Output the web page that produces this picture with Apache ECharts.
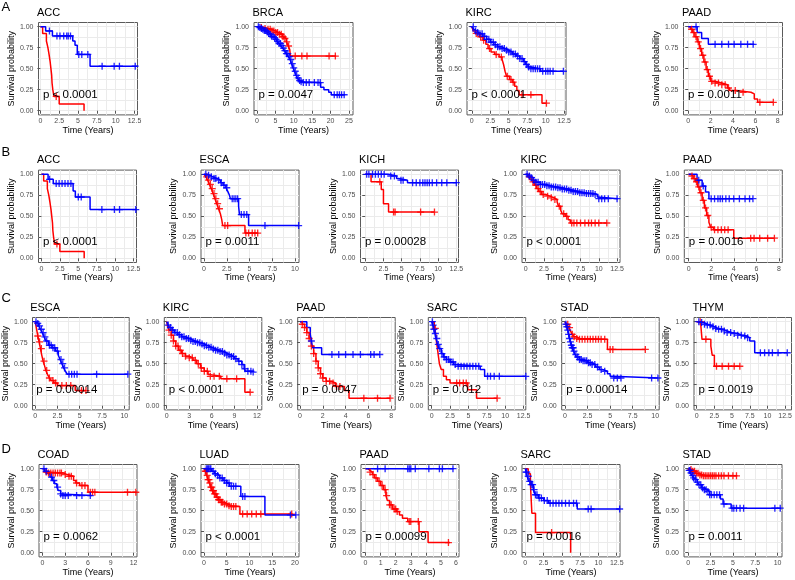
<!DOCTYPE html>
<html><head><meta charset="utf-8">
<script src="https://cdn.jsdelivr.net/npm/echarts@6/dist/echarts.min.js"></script>
<style>html,body{margin:0;padding:0;background:#fff}#c{width:795px;height:580px}</style>
</head><body><div id="c"></div><script>
// ---------- tick label arrays ----------
const ticks125 = [0, 2.5, 5, 7.5, 10, 12.5];
const ticks25 = [0, 5, 10, 15, 20, 25];
const ticks8 = [0, 2, 4, 6, 8];
const ticks10 = [0, 2.5, 5, 7.5, 10];
const ticks12 = [0, 3, 6, 9, 12];
const ticks20 = [0, 5, 10, 15, 20];
const ticks6 = [0, 1, 2, 3, 4, 5, 6];
const yTicks = [0, 0.25, 0.5, 0.75, 1];

// ---------- survival curves: [time, survival] ----------
// Row A
const accA_red = [[0,1],[0.3,0.92],[0.8,0.83],[1.0,0.75],[1.15,0.67],[1.3,0.58],[1.4,0.5],[1.5,0.42],[1.55,0.33],[1.65,0.25],[1.8,0.17],[2.5,0.08],[5.8,0]];
const accA_blue = [[0,1],[0.7,0.95],[1.6,0.89],[4.3,0.83],[4.6,0.78],[4.9,0.67],[6.6,0.53],[12.9,0.53]];
const accA_redC = [2.1];
const accA_blueC = [1.2,2.2,2.6,3.1,3.5,3.7,4.0,5.1,5.5,6.3,8.2,9.8,10.5,12.6];

const brcaA_red = [[0,1],[1,0.99],[2,0.98],[3,0.97],[4,0.95],[5,0.93],[6,0.91],[7,0.88],[7.5,0.86],[8,0.82],[8.5,0.77],[8.9,0.73],[9.1,0.65],[21.5,0.65]];
const brcaA_blue = [[0,1],[0.5,0.99],[1,0.98],[1.5,0.97],[2,0.955],[2.5,0.94],[3,0.92],[3.5,0.905],[4,0.885],[4.5,0.87],[5,0.85],[5.5,0.825],[6,0.8],[6.5,0.775],[7,0.745],[7.5,0.715],[8,0.68],[8.5,0.645],[9,0.61],[9.4,0.56],[9.8,0.51],[10.2,0.47],[10.6,0.42],[11,0.39],[11.5,0.36],[12,0.345],[12.5,0.335],[17.3,0.28],[18.2,0.25],[19.5,0.22],[20.2,0.19],[23.8,0.19]];
const brcaA_redC = [1.2,2.2,3.0,3.6,4.1,4.6,5.1,5.6,6.1,6.6,7.1,7.6,8.1,8.6,10.4,12.2,13.6,19.6,21.3];
const brcaA_blueC = [0.4,0.8,1.2,1.6,2.0,2.4,2.8,3.2,3.6,4.0,4.4,4.8,5.2,5.6,6.0,6.4,6.8,7.2,7.6,8.0,8.4,8.8,9.2,9.6,10.0,10.4,10.8,11.2,11.6,12.0,12.6,13.4,14.2,15.6,16.6,17.2,21.0,21.8,22.4,23.0,23.7];

const kircA_red = [[0,1],[0.2,0.95],[0.5,0.92],[1,0.88],[1.5,0.84],[1.9,0.79],[2.2,0.74],[2.6,0.7],[3.1,0.67],[3.7,0.64],[4.1,0.61],[4.3,0.55],[4.5,0.47],[4.7,0.41],[5.1,0.37],[5.5,0.34],[5.8,0.29],[6.1,0.24],[6.4,0.19],[9.5,0.09],[10.1,0.09]];
const kircA_blue = [[0,1],[0.25,0.97],[0.5,0.95],[0.75,0.93],[1,0.915],[1.5,0.885],[2,0.85],[2.5,0.815],[3,0.785],[3.5,0.76],[4,0.74],[4.5,0.72],[5,0.7],[5.5,0.675],[6,0.65],[6.5,0.62],[7,0.585],[7.3,0.55],[7.6,0.52],[7.9,0.5],[9.3,0.47],[12.4,0.47]];
const kircA_redC = [0.6,1.2,1.6,2.4,3.3,4.0,4.8,5.3,5.6,6.8,8.0,10.1];
const kircA_blueC = [0.2,0.5,0.8,1.1,1.4,1.7,2.0,2.3,2.6,2.9,3.2,3.5,3.8,4.1,4.4,4.7,5.0,5.3,5.6,5.9,6.2,6.5,6.8,7.1,7.4,7.7,8.0,8.3,8.6,8.9,9.2,9.6,10.0,10.3,10.6,11.0,12.4];

const paadA_red = [[0,1],[0.2,0.97],[0.4,0.93],[0.6,0.88],[0.8,0.82],[1.0,0.74],[1.2,0.66],[1.4,0.58],[1.6,0.49],[1.8,0.41],[2.0,0.35],[2.4,0.33],[3.0,0.31],[3.5,0.27],[3.7,0.24],[4.3,0.22],[5.6,0.2],[5.9,0.14],[6.2,0.1],[7.6,0.1]];
const paadA_blue = [[0,1],[0.8,0.93],[1.2,0.86],[1.8,0.79],[5.9,0.79]];
const paadA_redC = [0.3,0.5,0.7,0.9,1.1,1.3,1.5,1.7,1.9,2.1,2.4,2.7,3.0,3.3,3.6,4.2,4.9,6.4,7.6];
const paadA_blueC = [0.7,2.4,3.0,3.6,4.1,4.7,5.3,5.8];

// Row B
const accB_red = [[0,1],[0.3,0.92],[0.8,0.83],[1.0,0.75],[1.15,0.67],[1.3,0.58],[1.4,0.5],[1.5,0.42],[1.55,0.33],[1.65,0.25],[1.8,0.17],[2.5,0.08],[5.8,0]];
const accB_blue = [[0,1],[0.9,0.94],[1.6,0.89],[4.3,0.8],[4.6,0.73],[6.6,0.58],[12.9,0.58]];
const accB_redC = [2.1];
const accB_blueC = [1.1,2.0,2.4,2.8,3.2,3.6,4.0,5.0,5.4,8.2,9.9,10.6,12.8];

const escaB_red = [[0,1],[0.2,0.97],[0.4,0.93],[0.6,0.88],[0.8,0.83],[1.0,0.77],[1.2,0.71],[1.4,0.65],[1.6,0.59],[1.8,0.53],[1.95,0.46],[2.05,0.39],[4.5,0.3],[5.9,0.3]];
const escaB_blue = [[0,1],[0.3,0.99],[0.6,0.97],[1.0,0.95],[1.4,0.93],[1.8,0.9],[2.1,0.87],[2.4,0.84],[2.6,0.8],[2.8,0.75],[2.9,0.71],[3.8,0.62],[3.9,0.52],[4.9,0.39],[10.4,0.39]];
const escaB_redC = [0.3,0.5,0.7,0.9,1.1,1.3,1.5,1.7,2.3,2.6,4.6,4.9,5.3,5.6,5.9];
const escaB_blueC = [0.2,0.5,0.8,1.1,1.3,1.6,1.9,2.2,2.5,3.1,3.3,3.5,3.7,4.1,4.4,4.7,6.7,10.4];

const kichB_red = [[0,1],[0.8,0.91],[2.2,0.82],[2.5,0.65],[3.2,0.55],[9.5,0.55]];
const kichB_blue = [[0,1],[3.2,0.98],[4.3,0.95],[4.6,0.93],[5.8,0.9],[12.6,0.9]];
const kichB_redC = [2.0,3.9,4.1,7.6,9.5];
const kichB_blueC = [0.2,0.5,1.0,1.4,1.8,2.2,2.6,3.5,4.0,4.9,5.2,6.5,7.0,7.5,7.9,8.2,8.5,8.8,9.2,9.8,10.5,11.2,12.5];

const kircB_red = [[0,1],[0.3,0.97],[0.6,0.94],[0.9,0.91],[1.2,0.87],[1.5,0.83],[1.8,0.795],[2.2,0.76],[2.7,0.74],[3.3,0.72],[3.9,0.7],[4.3,0.67],[4.5,0.62],[4.8,0.57],[5.0,0.53],[5.4,0.5],[5.8,0.46],[6.1,0.42],[11.1,0.42]];
const kircB_blue = [[0,1],[0.3,0.98],[0.6,0.96],[1.0,0.93],[1.4,0.905],[2.0,0.88],[2.7,0.865],[3.5,0.85],[4.2,0.84],[5.0,0.825],[5.8,0.81],[6.5,0.795],[7.3,0.78],[8.2,0.77],[9.4,0.76],[9.8,0.73],[10.0,0.71],[12.6,0.71]];
const kircB_redC = [0.5,1.0,1.4,1.7,2.0,2.4,3.0,3.5,4.0,4.6,5.2,5.6,6.3,6.6,7.0,7.5,8.1,8.6,9.0,9.5,10.0,11.1];
const kircB_blueC = [0.2,0.5,0.8,1.1,1.4,1.7,2.0,2.3,2.6,2.9,3.2,3.5,3.8,4.1,4.4,4.7,5.0,5.3,5.6,5.9,6.2,6.5,6.8,7.1,7.4,7.7,8.0,8.3,8.6,8.9,9.2,9.5,10.0,10.4,10.8,11.3,12.5];

const paadB_red = [[0,1],[0.2,0.98],[0.4,0.95],[0.6,0.91],[0.8,0.85],[1.0,0.78],[1.2,0.69],[1.4,0.6],[1.6,0.51],[1.8,0.43],[1.95,0.37],[2.2,0.34],[4.0,0.24],[7.6,0.24]];
const paadB_blue = [[0,1],[0.75,0.93],[1.2,0.86],[1.5,0.79],[1.8,0.71],[5.7,0.71]];
const paadB_redC = [0.3,0.5,0.7,0.9,1.1,1.3,1.5,1.7,2.0,2.3,2.6,2.9,3.2,3.5,5.5,5.8,6.3,7.0,7.6];
const paadB_blueC = [0.9,1.3,2.0,2.3,2.6,2.8,3.0,3.3,3.6,4.0,4.5,5.0,5.4,5.7];

// Row C
const escaC_red = [[0,1],[0.1,0.95],[0.2,0.89],[0.3,0.83],[0.45,0.76],[0.6,0.68],[0.75,0.6],[0.9,0.53],[1.05,0.48],[1.2,0.42],[1.4,0.37],[1.6,0.33],[1.8,0.3],[2.1,0.27],[2.5,0.24],[4.5,0.18],[5.7,0.18]];
const escaC_blue = [[0,1],[0.2,0.98],[0.4,0.95],[0.6,0.91],[0.8,0.87],[1.0,0.82],[1.2,0.77],[1.5,0.72],[1.9,0.69],[2.3,0.65],[2.6,0.6],[2.8,0.55],[3.0,0.5],[3.2,0.45],[3.4,0.41],[3.6,0.375],[10.4,0.375]];
const escaC_redC = [0.3,0.5,0.7,1.0,1.3,1.6,2.0,2.3,3.0,3.5,4.0,5.2,5.7];
const escaC_blueC = [0.1,0.3,0.5,0.7,0.9,1.1,1.3,1.6,1.8,2.0,2.2,2.5,2.9,3.1,3.3,3.8,4.1,4.4,4.7,6.9,10.4];

const kircC_red = [[0,1],[0.1,0.95],[0.3,0.9],[0.6,0.84],[0.9,0.77],[1.2,0.71],[1.6,0.66],[2.0,0.62],[2.5,0.59],[3.0,0.57],[3.5,0.54],[4.0,0.5],[4.5,0.45],[5.0,0.41],[5.5,0.37],[5.8,0.35],[7.2,0.32],[10.4,0.16],[11.1,0.16]];
const kircC_blue = [[0,1],[0.2,0.96],[0.4,0.93],[0.7,0.9],[1.0,0.87],[1.5,0.845],[2.0,0.82],[2.5,0.8],[3.0,0.78],[3.5,0.765],[4.0,0.75],[4.5,0.735],[5.0,0.715],[5.5,0.695],[6.0,0.675],[6.5,0.66],[7.0,0.645],[7.5,0.625],[8.0,0.605],[8.5,0.585],[9.0,0.56],[9.5,0.53],[10.0,0.49],[10.3,0.44],[10.5,0.41],[11.5,0.4]];
const kircC_redC = [0.3,0.6,0.9,1.2,1.5,1.8,2.1,2.5,3.0,3.4,3.8,4.2,4.6,5.0,5.4,5.8,6.3,7.0,8.0,9.3,11.1];
const kircC_blueC = [0.2,0.5,0.8,1.1,1.4,1.7,2.0,2.3,2.6,2.9,3.2,3.5,3.8,4.1,4.4,4.7,5.0,5.3,5.6,5.9,6.2,6.5,6.8,7.1,7.4,7.7,8.0,8.3,8.6,8.9,9.2,9.6,10.0,10.4,10.8,11.2,11.5];

const paadC_red = [[0,1],[0.2,0.97],[0.4,0.93],[0.6,0.87],[0.8,0.8],[1.0,0.71],[1.2,0.62],[1.4,0.53],[1.6,0.45],[1.8,0.38],[2.0,0.33],[2.3,0.29],[2.8,0.27],[3.1,0.23],[3.9,0.18],[4.3,0.09],[7.9,0.09]];
const paadC_blue = [[0,1],[0.6,0.93],[0.9,0.85],[1.0,0.77],[1.1,0.69],[1.9,0.61],[7.0,0.61]];
const paadC_redC = [0.2,0.4,0.6,0.8,1.0,1.2,1.4,1.6,1.8,2.0,2.3,2.6,2.9,3.2,3.5,5.6,6.8,7.9];
const paadC_blueC = [1.0,2.8,3.4,4.0,4.65,5.3,6.2,6.5,7.0];

const sarcC_red = [[0,1],[0.35,0.92],[0.55,0.86],[0.65,0.76],[0.75,0.7],[0.9,0.6],[1.05,0.5],[1.3,0.43],[1.6,0.35],[2.0,0.31],[2.5,0.27],[4.9,0.19],[6.1,0.09],[8.9,0.09]];
const sarcC_blue = [[0,1],[0.15,0.96],[0.3,0.91],[0.45,0.86],[0.6,0.8],[0.8,0.73],[1.0,0.68],[1.3,0.62],[1.6,0.58],[2.0,0.55],[2.5,0.52],[3.0,0.49],[3.4,0.47],[6.6,0.43],[7.2,0.35],[12.8,0.35]];
const sarcC_redC = [0.5,3.4,3.8,4.3,4.7,8.9];
const sarcC_blueC = [0.1,0.2,0.3,0.5,0.7,0.9,1.1,1.4,1.7,2.0,2.3,2.6,2.9,3.2,3.6,4.0,4.4,4.8,5.2,5.6,6.0,6.4,7.6,8.0,8.5,9.2,12.8];

const stadC_red = [[0,1],[0.2,0.97],[0.4,0.93],[0.6,0.89],[0.8,0.85],[1.0,0.82],[1.3,0.8],[1.6,0.79],[4.7,0.67],[8.9,0.67]];
const stadC_blue = [[0,1],[0.1,0.97],[0.2,0.94],[0.3,0.9],[0.4,0.85],[0.5,0.8],[0.6,0.76],[0.7,0.72],[0.8,0.69],[0.95,0.65],[1.1,0.61],[1.3,0.58],[1.6,0.55],[2.0,0.535],[2.5,0.51],[3.0,0.49],[3.4,0.46],[3.8,0.43],[4.2,0.41],[4.7,0.38],[5.0,0.35],[5.3,0.33],[10.3,0.33]];
const stadC_redC = [0.3,0.5,0.8,1.0,1.3,1.6,1.9,2.2,2.5,2.8,3.1,3.4,3.7,4.0,4.4,5.0,5.3,8.9];
const stadC_blueC = [0.1,0.2,0.3,0.4,0.5,0.6,0.7,0.8,0.9,1.0,1.2,1.4,1.6,1.8,2.0,2.2,2.4,2.6,2.8,3.0,3.3,3.6,4.0,4.4,5.4,5.8,6.2,9.6,10.3];

const thymC_red = [[0,1],[0.6,0.94],[0.75,0.79],[2.0,0.71],[2.2,0.6],[2.5,0.47],[6.1,0.47]];
const thymC_blue = [[0,1],[0.5,0.99],[1.0,0.97],[1.5,0.96],[2.0,0.94],[2.5,0.92],[3.0,0.91],[3.7,0.89],[4.3,0.87],[5.0,0.86],[5.8,0.84],[6.4,0.83],[7.0,0.81],[7.5,0.77],[8.2,0.63],[12.8,0.63]];
const thymC_redC = [0.5,1.3,2.8,3.6,4.5,5.3,6.1];
const thymC_blueC = [0.3,0.7,1.1,1.5,1.9,2.3,2.7,3.1,3.5,3.9,4.3,4.8,5.3,5.8,6.3,6.8,7.2,9.0,9.6,10.2,10.7,11.5,12.8];

// Row D
const coadD_red = [[0,1],[0.3,0.96],[0.6,0.95],[2.7,0.93],[3.3,0.91],[4.1,0.86],[4.4,0.83],[4.9,0.8],[6.0,0.72],[12.4,0.72]];
const coadD_blue = [[0,1],[0.3,0.97],[0.7,0.94],[1.0,0.9],[1.3,0.86],[1.6,0.82],[1.9,0.78],[2.1,0.74],[2.4,0.7],[2.6,0.68],[6.5,0.68]];
const coadD_redC = [0.5,0.8,1.1,1.4,1.7,2.0,2.3,2.5,3.0,3.5,3.8,4.5,5.2,5.6,6.3,6.6,6.9,11.2,12.3];
const coadD_blueC = [0.2,0.5,1.2,1.5,2.0,2.4,2.7,3.0,3.4,4.5,5.2,6.3];

const luadD_red = [[0,1],[0.3,0.97],[0.6,0.92],[0.9,0.87],[1.2,0.83],[1.5,0.78],[1.8,0.74],[2.2,0.7],[2.7,0.66],[3.2,0.63],[3.8,0.6],[4.5,0.58],[5.2,0.56],[6.0,0.55],[7.9,0.46],[19.5,0.46]];
const luadD_blue = [[0,1],[1.7,0.97],[2.3,0.94],[2.8,0.92],[3.4,0.89],[4.2,0.86],[5.0,0.83],[5.6,0.79],[8.1,0.67],[13.4,0.45],[20.2,0.45]];
const luadD_redC = [0.3,0.5,0.7,0.9,1.1,1.3,1.5,1.7,1.9,2.1,2.3,2.6,2.9,3.2,3.5,3.8,4.1,4.5,5.0,5.5,6.0,6.5,7.0,8.5,9.5,10.5,11.5,12.5,19.3];
const luadD_blueC = [0.5,0.8,1.0,1.3,1.5,2.0,2.5,3.0,3.5,4.0,4.5,5.0,5.5,6.0,6.5,7.0,8.5,9.0,19.0,20.2];

const paadD_red = [[0,1],[0.15,0.98],[0.3,0.96],[0.45,0.93],[0.6,0.89],[0.8,0.85],[1.0,0.8],[1.2,0.75],[1.35,0.68],[1.45,0.62],[1.6,0.57],[1.8,0.52],[2.05,0.49],[2.25,0.45],[2.45,0.41],[2.8,0.37],[3.55,0.25],[4.15,0.12],[5.6,0.12]];
const paadD_blue = [[0,1],[5.85,1]];
const paadD_redC = [0.3,0.5,0.7,0.9,1.1,1.3,1.4,1.6,1.7,1.9,2.0,2.1,2.9,3.0,3.5,5.5];
const paadD_blueC = [0.8,1.3,2.8,2.9,3.0,3.3,4.2,4.9,5.1,5.8];

const sarcD_red = [[0,1],[0.4,0.94],[0.7,0.82],[0.9,0.47],[1.4,0.24],[6.2,0]];
const sarcD_blue = [[0,1],[0.1,0.96],[0.25,0.91],[0.45,0.85],[0.8,0.81],[1.1,0.75],[1.35,0.69],[1.8,0.65],[2.5,0.62],[3.2,0.59],[7.1,0.52],[12.9,0.52]];
const sarcD_redC = [3.6];
const sarcD_blueC = [0.1,0.2,0.4,0.6,0.8,1.0,1.2,1.4,1.6,1.9,2.2,2.6,3.0,3.4,3.8,4.2,4.6,5.0,5.5,6.0,6.6,7.0,8.6,9.0,12.9];

const stadD_red = [[0,1],[0.2,0.99],[0.5,0.97],[0.8,0.945],[1.2,0.925],[1.6,0.915],[5.5,0.915]];
const stadD_blue = [[0,1],[0.1,0.98],[0.25,0.95],[0.4,0.92],[0.6,0.89],[0.8,0.87],[1.0,0.84],[1.2,0.81],[1.5,0.77],[1.8,0.75],[2.1,0.73],[2.4,0.69],[3.6,0.64],[3.9,0.58],[4.8,0.53],[10.4,0.53]];
const stadD_redC = [0.3,0.5,0.7,0.9,1.1,1.3,1.5,1.7,1.9,2.1,2.3,2.5,2.7,2.9,3.1,3.4,3.7,4.0,4.5,5.0,5.4];
const stadD_blueC = [0.1,0.2,0.3,0.5,0.6,0.8,1.0,1.2,1.4,1.6,1.8,2.0,2.2,2.4,2.6,2.9,3.2,3.5,4.0,4.9,5.1,5.4,5.8,6.2,9.7,10.3];

// ---------- panel content ----------
const panels = [
  {title:'ACC',  p:'p < 0.0001', red:accA_red,  blue:accA_blue,  redC:accA_redC,  blueC:accA_blueC,  xt:ticks125},
  {title:'BRCA', p:'p = 0.0047', red:brcaA_red, blue:brcaA_blue, redC:brcaA_redC, blueC:brcaA_blueC, xt:ticks25},
  {title:'KIRC', p:'p < 0.0001', red:kircA_red, blue:kircA_blue, redC:kircA_redC, blueC:kircA_blueC, xt:ticks125},
  {title:'PAAD', p:'p = 0.0011', red:paadA_red, blue:paadA_blue, redC:paadA_redC, blueC:paadA_blueC, xt:ticks8},
  {title:'ACC',  p:'p < 0.0001', red:accB_red,  blue:accB_blue,  redC:accB_redC,  blueC:accB_blueC,  xt:ticks125},
  {title:'ESCA', p:'p = 0.0011', red:escaB_red, blue:escaB_blue, redC:escaB_redC, blueC:escaB_blueC, xt:ticks10},
  {title:'KICH', p:'p = 0.00028', red:kichB_red, blue:kichB_blue, redC:kichB_redC, blueC:kichB_blueC, xt:ticks125},
  {title:'KIRC', p:'p < 0.0001', red:kircB_red, blue:kircB_blue, redC:kircB_redC, blueC:kircB_blueC, xt:ticks125},
  {title:'PAAD', p:'p = 0.0016', red:paadB_red, blue:paadB_blue, redC:paadB_redC, blueC:paadB_blueC, xt:ticks8},
  {title:'ESCA', p:'p = 0.00014', red:escaC_red, blue:escaC_blue, redC:escaC_redC, blueC:escaC_blueC, xt:ticks10},
  {title:'KIRC', p:'p < 0.0001', red:kircC_red, blue:kircC_blue, redC:kircC_redC, blueC:kircC_blueC, xt:ticks12},
  {title:'PAAD', p:'p = 0.0047', red:paadC_red, blue:paadC_blue, redC:paadC_redC, blueC:paadC_blueC, xt:ticks8},
  {title:'SARC', p:'p = 0.012', red:sarcC_red, blue:sarcC_blue, redC:sarcC_redC, blueC:sarcC_blueC, xt:ticks125},
  {title:'STAD', p:'p = 0.00014', red:stadC_red, blue:stadC_blue, redC:stadC_redC, blueC:stadC_blueC, xt:ticks10},
  {title:'THYM', p:'p = 0.0019', red:thymC_red, blue:thymC_blue, redC:thymC_redC, blueC:thymC_blueC, xt:ticks125},
  {title:'COAD', p:'p = 0.0062', red:coadD_red, blue:coadD_blue, redC:coadD_redC, blueC:coadD_blueC, xt:ticks12},
  {title:'LUAD', p:'p < 0.0001', red:luadD_red, blue:luadD_blue, redC:luadD_redC, blueC:luadD_blueC, xt:ticks20},
  {title:'PAAD', p:'p = 0.00099', red:paadD_red, blue:paadD_blue, redC:paadD_redC, blueC:paadD_blueC, xt:ticks6},
  {title:'SARC', p:'p = 0.0016', red:sarcD_red, blue:sarcD_blue, redC:sarcD_redC, blueC:sarcD_blueC, xt:ticks125},
  {title:'STAD', p:'p = 0.0011', red:stadD_red, blue:stadD_blue, redC:stadD_redC, blueC:stadD_blueC, xt:ticks10}
];

// ---------- layout (pixels / axis ranges) ----------
const rowTops = [22.5, 170.1, 317.5, 464.5];
const BOX_H = 92.4;
const layout = [
  {row:0, left:38.5, width:99, xmin:-0.25, xmax:12.9},
  {row:0, left:254,  width:99, xmin:-0.8,  xmax:26.1},
  {row:0, left:467,  width:99, xmin:-0.65, xmax:12.75},
  {row:0, left:683.5,width:99, xmin:-0.42, xmax:8.42},
  {row:1, left:38.5, width:98, xmin:-0.4,  xmax:12.9},
  {row:1, left:201,  width:98, xmin:-0.33, xmax:10.44},
  {row:1, left:360.5,width:98, xmin:-0.65, xmax:12.8},
  {row:1, left:522,  width:98, xmin:-0.5,  xmax:12.9},
  {row:1, left:684.3,width:98, xmin:-0.38, xmax:8.3},
  {row:2, left:31.7, width:97.5, xmin:-0.29, xmax:10.55},
  {row:2, left:164.3,width:97.5, xmin:-0.32, xmax:12.65},
  {row:2, left:297.7,width:97.5, xmin:-0.2,  xmax:8.35},
  {row:2, left:428.3,width:97.5, xmin:-0.46, xmax:12.8},
  {row:2, left:561.7,width:97.5, xmin:-0.37, xmax:10.44},
  {row:2, left:694,  width:97.5, xmin:-0.38, xmax:13.4},
  {row:3, left:39,   width:98, xmin:-0.45, xmax:12.45},
  {row:3, left:201,  width:98, xmin:-0.66, xmax:20.9},
  {row:3, left:361,  width:98, xmin:-0.3,  xmax:6.2},
  {row:3, left:522,  width:98, xmin:-0.45, xmax:12.95},
  {row:3, left:684,  width:98, xmin:-0.48, xmax:10.5}
];
const rowLetters = ['A','B','C','D'];
const letterY = [7, 152, 298, 449];

const FONT = '"Liberation Sans", Arial, Helvetica, sans-serif';
const RED = '#ff0000', BLUE = '#0000ff';
const PLUS = 'path://M-1,-0.19H-0.19V-1H0.19V-0.19H1V0.19H0.19V1H-0.19V0.19H-1Z';

function survAt(curve, t) {
  let s = curve[0][1];
  for (const pt of curve) { if (pt[0] <= t + 1e-9) s = pt[1]; else break; }
  return s;
}
function gridValues(ticks, min, max) {
  const step = ticks[1] - ticks[0];
  const out = ticks.slice();
  for (let v = ticks[0] - step / 2; v <= max + 1e-9; v += step) if (v >= min) out.push(v);
  return out.filter(v => v >= min && v <= max);
}

const grids = [], xAxes = [], yAxes = [], series = [], graphics = [];
const yGrid = gridValues(yTicks, -0.05, 1.05);

panels.forEach((pn, i) => {
  const L = layout[i];
  const top = rowTops[L.row];
  grids.push({left: L.left, top: top, width: L.width, height: BOX_H, show: true,
    borderColor: '#5a5a5a', borderWidth: 1, backgroundColor: '#fff', containLabel: false});
  xAxes.push({gridIndex: i, type: 'value', min: L.xmin, max: L.xmax, position: 'bottom',
    axisLine: {show: false},
    axisTick: {show: true, length: 3, lineStyle: {color: '#555', width: 1}, customValues: pn.xt},
    axisLabel: {show: true, customValues: pn.xt, fontSize: 7, color: '#4d4d4d', margin: 3, fontFamily: FONT},
    splitLine: {show: false},
    name: 'Time (Years)', nameLocation: 'middle', nameGap: 9,
    nameTextStyle: {fontSize: 9, color: '#000', fontFamily: FONT}});
  const xg = gridValues(pn.xt, L.xmin, L.xmax);
  xAxes.push({gridIndex: i, type: 'value', min: L.xmin, max: L.xmax, position: 'top',
    axisLine: {show: false}, axisTick: {show: false, customValues: xg},
    axisLabel: {show: false}, splitLine: {show: true, customValues: xg, lineStyle: {color: '#ebebeb', width: 1}}});
  yAxes.push({gridIndex: i, type: 'value', min: -0.05, max: 1.05, position: 'left',
    axisLine: {show: false},
    axisTick: {show: true, length: 3, lineStyle: {color: '#555', width: 1}, customValues: yTicks},
    axisLabel: {show: true, customValues: yTicks, fontSize: 7, color: '#4d4d4d', margin: 5, fontFamily: FONT,
      formatter: v => Number(v).toFixed(2)},
    splitLine: {show: false},
    name: 'Survival probability', nameLocation: 'middle', nameGap: 22.5,
    nameTextStyle: {fontSize: 9, color: '#000', fontFamily: FONT}});
  yAxes.push({gridIndex: i, type: 'value', min: -0.05, max: 1.05, position: 'right',
    axisLine: {show: false}, axisTick: {show: false, customValues: yGrid},
    axisLabel: {show: false}, splitLine: {show: true, customValues: yGrid, lineStyle: {color: '#ebebeb', width: 1}}});

  const xi = 2 * i, yi = 2 * i;
  [[pn.red, RED], [pn.blue, BLUE]].forEach(([curve, col]) => {
    series.push({type: 'line', xAxisIndex: xi, yAxisIndex: yi, data: curve, step: 'end',
      symbol: 'none', showSymbol: false, silent: true, clip: true, z: 3,
      lineStyle: {color: col, width: 1.5}, itemStyle: {color: col}});
  });
  [[pn.redC, pn.red, RED], [pn.blueC, pn.blue, BLUE]].forEach(([cens, curve, col]) => {
    series.push({type: 'scatter', xAxisIndex: xi, yAxisIndex: yi, silent: true, z: 4,
      data: cens.map(t => [t, survAt(curve, t)]),
      symbol: PLUS, symbolSize: 7, itemStyle: {color: col, opacity: 0.85}});
  });

  graphics.push({type: 'text', z: 100, style: {text: pn.title, x: L.left - 1.5, y: top - 10,
    font: '11px ' + FONT, fill: '#000', align: 'left', verticalAlign: 'middle'}});
  const zeroY = top + BOX_H * (1.05 / 1.1);
  graphics.push({type: 'text', z: 100, style: {text: pn.p, x: L.left + 4.5, y: zeroY - 16,
    font: '11.5px ' + FONT, fill: '#000', align: 'left', verticalAlign: 'middle'}});
});
rowLetters.forEach((t, r) => {
  graphics.push({type: 'text', z: 100, style: {text: t, x: 1.5, y: letterY[r],
    font: '13px ' + FONT, fill: '#000', align: 'left', verticalAlign: 'middle'}});
});

const chart = echarts.init(document.getElementById('c'), null, {renderer: 'canvas'});
chart.setOption({
  animation: false,
  backgroundColor: '#fff',
  grid: grids, xAxis: xAxes, yAxis: yAxes, series: series, graphic: graphics
});
</script></body></html>
